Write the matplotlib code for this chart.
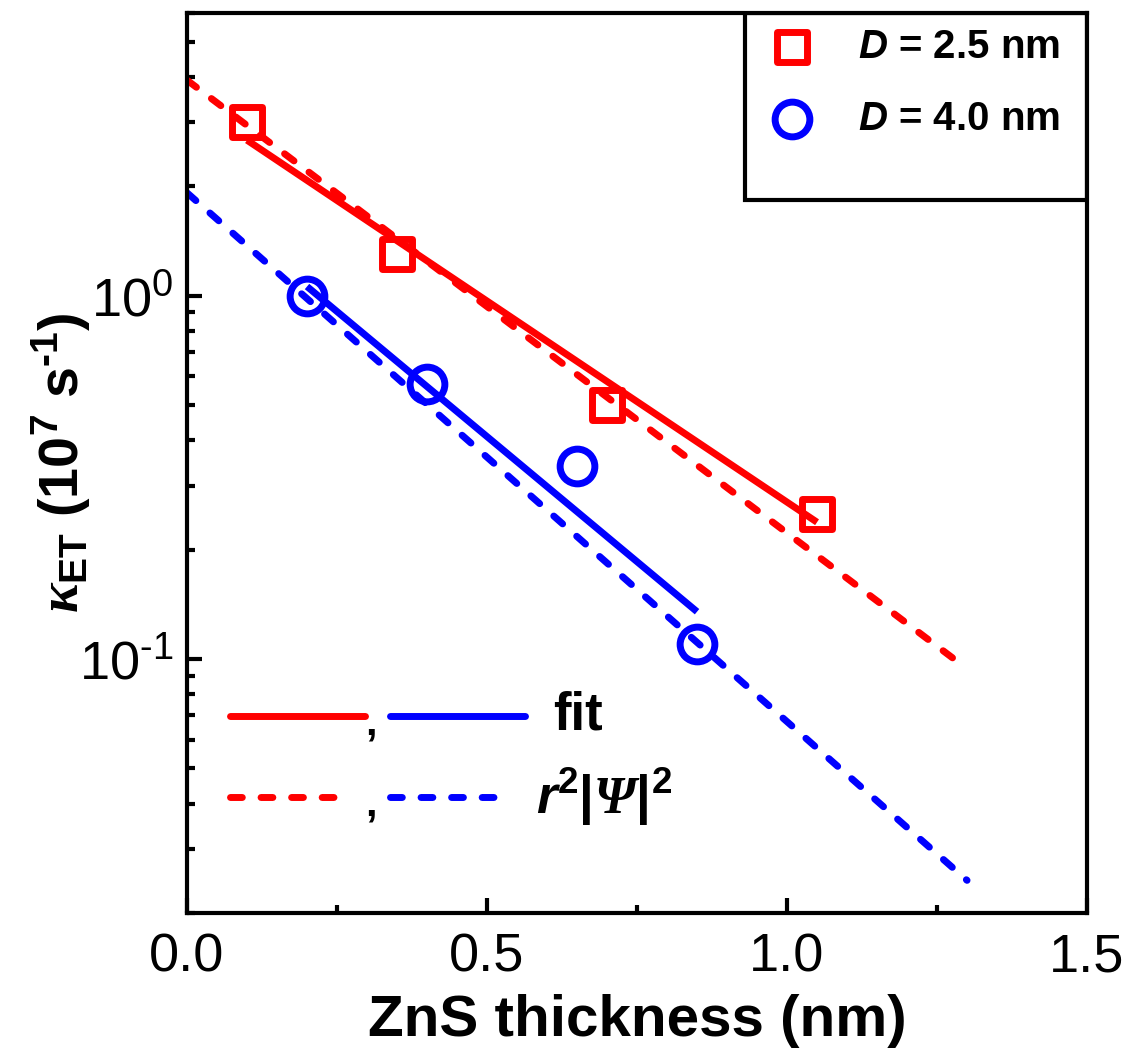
import numpy as np
import matplotlib
matplotlib.use("Agg")
import matplotlib.pyplot as plt
from matplotlib.markers import MarkerStyle
from matplotlib.patches import Rectangle
from matplotlib.ticker import (LogLocator, MultipleLocator, NullFormatter,
                               FormatStrFormatter, FuncFormatter)

plt.rcParams['font.family'] = ['Liberation Sans', 'DejaVu Sans']
plt.rcParams['mathtext.fontset'] = 'custom'
plt.rcParams['mathtext.rm'] = 'Liberation Sans'
plt.rcParams['mathtext.it'] = 'Liberation Sans:italic'
plt.rcParams['mathtext.bf'] = 'Liberation Sans:bold'
plt.rcParams['mathtext.sf'] = 'Liberation Sans:italic:bold'      # bold italic latin
plt.rcParams['mathtext.bfit'] = 'Liberation Serif:italic:bold'   # greek symbols

HY = "\u2010"  # short hyphen like the original exponents

# measured energy-transfer rates (10^7 s^-1) vs ZnS shell thickness (nm)
x_25 = [0.10, 0.35, 0.70, 1.05]
k_25 = [3.0, 1.30, 0.50, 0.25]
x_40 = [0.20, 0.40, 0.65, 0.85]
k_40 = [1.0, 0.57, 0.34, 0.11]

# exponential fits (straight lines on the log axis, endpoints)
fit_x_25 = [0.10, 1.05]
fit_k_25 = [2.68, 0.238]
fit_x_40 = [0.20, 0.85]
fit_k_40 = [1.06, 0.135]

# r^2|psi|^2 model curves
calc_x = [0.0, 1.30]
calc_k_25 = [3.92, 0.094]
calc_k_40 = [1.92, 0.0246]

RED, BLUE = "#ff0000", "#0000ff"
LW = 5.0
DASH = (1.7, 2.7)
MS_SQ, MS_CI, MEW = 21.5, 25, 5.0

sq = MarkerStyle("s", joinstyle="round")
ci = MarkerStyle("o")

fig = plt.figure(figsize=(11.3, 10.56), dpi=100)
ax = fig.add_axes([0.1655, 0.1354, 0.7965, 0.8523])

# model (dashed) and fits (solid)
ax.plot(fit_x_25, fit_k_25, color=RED, lw=LW, solid_capstyle="butt")
ax.plot(fit_x_40, fit_k_40, color=BLUE, lw=LW, solid_capstyle="butt")
ax.plot(calc_x, calc_k_25, color=RED, lw=LW, dashes=DASH, dash_capstyle="round")
ax.plot(calc_x, calc_k_40, color=BLUE, lw=LW, dashes=DASH, dash_capstyle="round")

# data
ax.plot(x_25, k_25, ls="none", marker=sq, ms=MS_SQ, mew=MEW, mfc="none", mec=RED)
ax.plot(x_40, k_40, ls="none", marker=ci, ms=MS_CI, mew=MEW, mfc="none", mec=BLUE)

ax.set_yscale("log")
ax.set_xlim(0, 1.5)
ax.set_ylim(0.02, 6)
ax.xaxis.set_major_locator(MultipleLocator(0.5))
ax.xaxis.set_minor_locator(MultipleLocator(0.25))
ax.xaxis.set_major_formatter(FormatStrFormatter("%.1f"))
ax.yaxis.set_major_locator(LogLocator(base=10, numticks=10))
ax.yaxis.set_minor_locator(LogLocator(base=10, subs=range(2, 10), numticks=20))
ax.yaxis.set_minor_formatter(NullFormatter())


def dec_fmt(v, pos):
    e = int(round(np.log10(v)))
    s = str(e).replace("-", HY)
    return "10$^{\\mathrm{%s}}$" % s


ax.yaxis.set_major_formatter(FuncFormatter(dec_fmt))

for s in ax.spines.values():
    s.set_linewidth(3)
ax.tick_params(which="both", direction="in", width=3, labelsize=39, top=False, right=False)
ax.tick_params(which="major", length=11)
ax.tick_params(which="minor", length=6)
ax.tick_params(axis="x", pad=14)
ax.tick_params(axis="y", pad=10)

ax.set_xlabel("ZnS thickness (nm)", fontsize=42, fontweight="bold", labelpad=8)
ax.set_ylabel(r"$\mathbfit{\kappa}_{\mathbf{ET}}$ (10$^{\mathbf{7}}$ s$^{\mathbf{%s1}}$)" % HY,
              fontsize=40, fontweight="bold")
ax.yaxis.set_label_coords(-0.105, 0.5)

# legend box for data markers (top right)
ax.add_patch(Rectangle((0.62, 0.792), 0.38, 0.208, transform=ax.transAxes,
                       fill=False, ec="black", lw=3, zorder=5))
ax.plot([0.672], [0.962], transform=ax.transAxes, marker=sq, ms=MS_SQ, mew=MEW,
        mfc="none", mec=RED, clip_on=False)
ax.plot([0.672], [0.882], transform=ax.transAxes, marker=ci, ms=MS_CI, mew=MEW,
        mfc="none", mec=BLUE, clip_on=False)
ax.text(0.746, 0.962, r"$\mathsf{D}$ = 2.5 nm", transform=ax.transAxes,
        fontsize=29, fontweight="bold", va="center")
ax.text(0.746, 0.882, r"$\mathsf{D}$ = 4.0 nm", transform=ax.transAxes,
        fontsize=29, fontweight="bold", va="center")

# line-style key (lower left)
ax.plot([0.048, 0.198], [0.219, 0.219], transform=ax.transAxes, color=RED, lw=LW,
        solid_capstyle="round")
ax.plot([0.226, 0.376], [0.219, 0.219], transform=ax.transAxes, color=BLUE, lw=LW,
        solid_capstyle="round")
ax.plot([0.048, 0.180], [0.129, 0.129], transform=ax.transAxes, color=RED, lw=LW,
        dashes=DASH, dash_capstyle="round")
ax.plot([0.226, 0.358], [0.129, 0.129], transform=ax.transAxes, color=BLUE, lw=LW,
        dashes=DASH, dash_capstyle="round")
ax.text(0.198, 0.198, ",", transform=ax.transAxes, fontsize=30, fontweight="bold")
ax.text(0.198, 0.108, ",", transform=ax.transAxes, fontsize=30, fontweight="bold")
ax.text(0.407, 0.219, "fit", transform=ax.transAxes, fontsize=38, fontweight="bold",
        va="center")
ax.text(0.388, 0.129,
        r"$\mathsf{r}^{\mathbf{2}}\mathbf{|}\mathbfit{\Psi}\mathbf{|}^{\mathbf{2}}$",
        transform=ax.transAxes, fontsize=38, va="center")

fig.savefig("out.png", dpi=100)
